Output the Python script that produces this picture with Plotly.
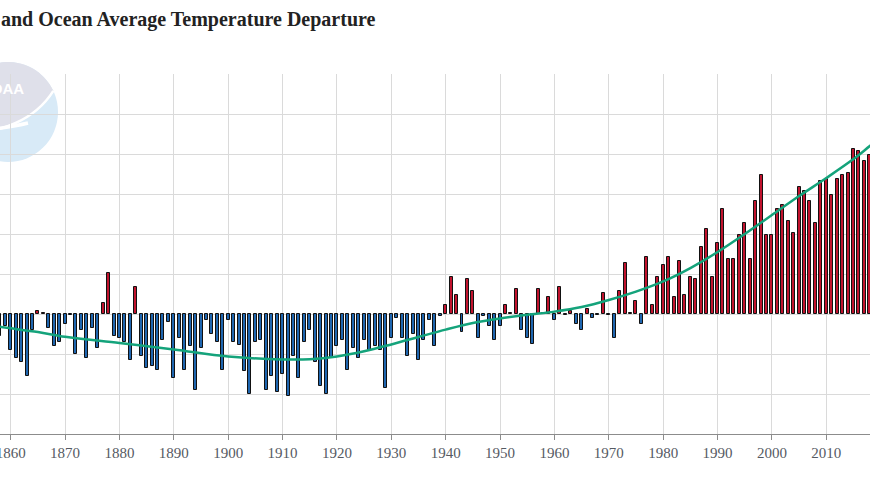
import math
import plotly.graph_objects as go

# ---------------- data ----------------
years = list(range(1858, 2019))
anomalies = [
    -0.11, -0.06,
    -0.18, -0.22, -0.24, -0.31, -0.08, 0.015, 0.005, -0.07, -0.16, -0.14,
    -0.05, -0.005, -0.20, -0.08, -0.22, -0.07, -0.17, 0.055, 0.205, -0.11,
    -0.12, -0.14, -0.23, 0.137, -0.21, -0.27, -0.26, -0.28, -0.13, -0.04,
    -0.32, -0.12, -0.28, -0.16, -0.38, -0.17, -0.028, -0.10, -0.14, -0.28,
    -0.028, -0.14, -0.155, -0.285, -0.40, -0.14, -0.13, -0.38, -0.31, -0.39,
    -0.30, -0.41, -0.21, -0.32, -0.14, -0.08, -0.24, -0.36, -0.40, -0.22,
    -0.16, -0.13, -0.28, -0.17, -0.22, -0.13, -0.18, -0.16, -0.18, -0.37,
    -0.12, -0.02, -0.12, -0.21, -0.10, -0.23, -0.13, -0.03, -0.16, -0.01,
    0.047, 0.185, 0.097, -0.09, 0.177, 0.117, -0.12, -0.01, -0.06, -0.13,
    -0.06, 0.047, 0.005, 0.127, -0.08, -0.12, -0.15, 0.127, 0.005, 0.087,
    -0.03, 0.137, -0.005, 0.017, -0.05, -0.08, 0.027, -0.02, -0.005, 0.105,
    -0.005, -0.12, 0.115, 0.255, 0.005, 0.065, -0.05, 0.285, 0.045, 0.185,
    0.245, 0.285, 0.085, 0.265, 0.095, 0.185, 0.175, 0.335, 0.425, 0.185,
    0.355, 0.525, 0.275, 0.275, 0.395, 0.455, 0.275, 0.565, 0.695, 0.395,
    0.395, 0.525, 0.545, 0.465, 0.405, 0.635, 0.615, 0.565, 0.455, 0.665,
    0.675, 0.595, 0.675, 0.695, 0.705, 0.825, 0.815, 0.765, 0.795,
]
trend_years = [1855, 1858, 1865, 1870, 1880, 1890, 1900, 1910, 1915, 1920,
               1925, 1930, 1935, 1940, 1945, 1950, 1955, 1960, 1965, 1970,
               1975, 1980, 1985, 1990, 1995, 2000, 2005, 2010, 2015, 2018, 2021]
trend_values = [-0.05, -0.064, -0.09, -0.114, -0.145, -0.177, -0.212, -0.227, -0.226, -0.212,
                -0.186, -0.152, -0.115, -0.078, -0.045, -0.022, -0.004, 0.012, 0.035, 0.07,
                0.112, 0.163, 0.23, 0.31, 0.40, 0.495, 0.59, 0.68, 0.775, 0.84, 0.905]
title_text = "and Ocean Average Temperature Departure"

assert len(years) == len(anomalies)

POS_COLOR = "#c1132e"
NEG_COLOR = "#1f66b0"
bar_colors = [POS_COLOR if v > 0 else NEG_COLOR for v in anomalies]

SERIF = "'Liberation Serif', 'Times New Roman', Times, serif"

W, H = 870, 500
T, B = 74, 66
PH = H - T - B


def px(x):
    return x / W


def py(y):
    return (H - B - y) / PH


fig = go.Figure()
fig.add_trace(go.Bar(
    x=years, y=anomalies, width=0.55,
    marker=dict(color=bar_colors, line=dict(color="#111111", width=1)),
    hoverinfo="x+y",
))
fig.add_trace(go.Scatter(
    x=trend_years, y=trend_values, mode="lines",
    line=dict(color="#14a37b", width=2.5, shape="spline", smoothing=1.0),
    hoverinfo="skip",
))

# ---- NOAA watermark logo (decoration) ----
cx, cy, r = 8, 112, 50
shapes = []
shapes.append(dict(type="circle", xref="paper", yref="paper",
                   x0=px(cx - r), x1=px(cx + r), y0=py(cy + r), y1=py(cy - r),
                   fillcolor="#d8eaf7", line=dict(width=0), layer="below"))
pts = []
for k in range(0, 41):
    a = math.radians(25 + (205 - 25) * k / 40)
    pts.append((cx + r * math.cos(a), cy - r * math.sin(a)))
path = "M {:.5f},{:.5f}".format(px(pts[0][0]), py(pts[0][1]))
for (x, y) in pts[1:]:
    path += " L {:.5f},{:.5f}".format(px(x), py(y))
path += " C {:.5f},{:.5f} {:.5f},{:.5f} {:.5f},{:.5f} Z".format(
    px(0), py(134), px(35), py(120), px(pts[0][0]), py(pts[0][1]))
shapes.append(dict(type="path", xref="paper", yref="paper", path=path,
                   fillcolor="#dfe0ea", line=dict(width=0), layer="below"))
sw = "M {:.5f},{:.5f} C {:.5f},{:.5f} {:.5f},{:.5f} {:.5f},{:.5f}".format(
    px(pts[-1][0]), py(pts[-1][1]), px(0), py(134), px(35), py(120), px(pts[0][0]), py(pts[0][1]))
shapes.append(dict(type="path", xref="paper", yref="paper", path=sw,
                   line=dict(color="white", width=2.5), layer="below"))
sw2 = "M {:.5f},{:.5f} C {:.5f},{:.5f} {:.5f},{:.5f} {:.5f},{:.5f}".format(
    px(-20), py(131), px(5), py(128), px(20), py(125), px(28), py(123))
shapes.append(dict(type="path", xref="paper", yref="paper", path=sw2,
                   line=dict(color="white", width=3.5), layer="below"))

annotations = [
    dict(text="<b>NOAA</b>", xref="paper", yref="paper", x=px(26), y=py(89),
         xanchor="right", yanchor="middle", showarrow=False,
         font=dict(family="Liberation Sans", size=15, color="white")),
    dict(text="<b>" + title_text + "</b>", xref="paper", yref="paper",
         x=px(-1), y=py(19), xanchor="left", yanchor="middle", showarrow=False,
         font=dict(family=SERIF, size=20, color="#222222")),
]

fig.update_layout(
    width=W, height=H,
    margin=dict(l=0, r=0, t=T, b=B, pad=0, autoexpand=False),
    paper_bgcolor="white", plot_bgcolor="rgba(0,0,0,0)",
    showlegend=False, bargap=0,
    shapes=shapes, annotations=annotations,
    xaxis=dict(range=[1858.03, 2018.04], tickmode="linear", tick0=1860, dtick=10,
               automargin=False,
               showgrid=True, gridcolor="#dadada", gridwidth=1,
               showline=True, linecolor="#8c8c8c", linewidth=1,
               ticks="outside", ticklen=5, tickcolor="#8c8c8c",
               ticklabeloverflow="allow",
               tickfont=dict(family=SERIF, size=15, color="#555a63"),
               zeroline=False, fixedrange=True),
    yaxis=dict(range=[-0.6, 1.2005], tickmode="linear", tick0=0, dtick=0.2,
               automargin=False,
               showgrid=True, gridcolor="#dadada", gridwidth=1,
               showticklabels=False, zeroline=False, showline=False, fixedrange=True),
)

fig.write_html("out.html")
